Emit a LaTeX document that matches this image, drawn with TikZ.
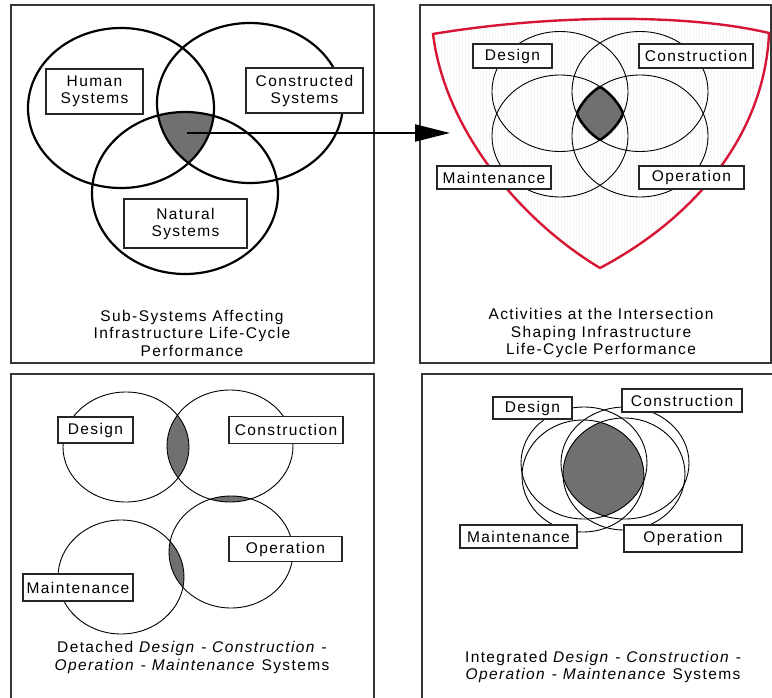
\documentclass[tikz,border=0pt]{standalone}
\usepackage{fontspec}
\setmainfont{Liberation Sans}[LetterSpace=9]
\usetikzlibrary{arrows.meta, patterns}

\definecolor{coregray}{RGB}{112,112,112}
\definecolor{framegray}{RGB}{55,55,55}
\definecolor{shieldred}{RGB}{214,22,52}
\definecolor{hatch}{RGB}{246,246,246}

\tikzset{
  panel/.style={draw=framegray, line width=1.4pt},
  tag/.style={draw=black!85, fill=white, line width=1.2pt, inner sep=0pt, align=center,
    font=\fontsize{15.5}{17}\selectfont},
  caption/.style={align=center, font=\fontsize{15.5}{17.5}\selectfont},
  bigring/.style={line width=2.2pt},
  ring/.style={line width=0.9pt},
  rim/.style={line width=2.6pt},
}

\begin{document}
\begin{tikzpicture}[x=1pt, y=-1pt]
    \useasboundingbox (0,0) rectangle (772,698);
    \fill[white] (0,0) rectangle (772,698);

    \draw[panel] (11,5) rectangle (374,363);
    \draw[panel] (420,5) rectangle (771,363);
    \draw[panel] (11,374) rectangle (374,720);
    \draw[panel] (422,374) rectangle (790,720);

    \begin{scope}
        \clip (121,108) ellipse [x radius=93, y radius=80];
        \clip (250,103) ellipse [x radius=93, y radius=80];
        \fill[coregray] (185,193) ellipse [x radius=93, y radius=81];
    \end{scope}
    \draw[bigring] (121,108) ellipse [x radius=93, y radius=80];
    \draw[bigring] (250,103) ellipse [x radius=93, y radius=80];
    \draw[bigring] (185,193) ellipse [x radius=93, y radius=81];
    \node[tag, minimum width=97pt, minimum height=45pt] (human) at (94.5,91.5) {Human\\Systems};
    \node[tag, minimum width=117pt, minimum height=45pt] (constructed) at (304.5,90.5) {Constructed\\Systems};
    \node[tag, minimum width=123pt, minimum height=49pt] (natural) at (185.5,223.5) {Natural\\Systems};
    \node[caption] (subsystems) at (192,333) {Sub-Systems Affecting\\Infrastructure Life-Cycle\\Performance};

    \draw[draw=shieldred, line width=2.4pt, pattern=vertical lines, pattern color=hatch]
        (433,34) .. controls (540,16) and (680,12) .. (769,33)
        .. controls (765,130) and (700,215) .. (600,268)
        .. controls (520,220) and (445,130) .. cycle;
    \begin{scope}
        \clip (560,91.5) ellipse [x radius=68, y radius=60];
        \clip (640,91.5) ellipse [x radius=68, y radius=60];
        \clip (560,136) ellipse [x radius=68, y radius=61];
        \fill[coregray] (640,136) ellipse [x radius=68, y radius=61];
        \draw[rim] (640,136) ellipse [x radius=68, y radius=61];
    \end{scope}
    \begin{scope}
        \clip (560,91.5) ellipse [x radius=68, y radius=60];
        \clip (640,91.5) ellipse [x radius=68, y radius=60];
        \clip (640,136) ellipse [x radius=68, y radius=61];
        \draw[rim] (560,136) ellipse [x radius=68, y radius=61];
    \end{scope}
    \begin{scope}
        \clip (560,91.5) ellipse [x radius=68, y radius=60];
        \clip (560,136) ellipse [x radius=68, y radius=61];
        \clip (640,136) ellipse [x radius=68, y radius=61];
        \draw[rim] (640,91.5) ellipse [x radius=68, y radius=60];
    \end{scope}
    \begin{scope}
        \clip (640,91.5) ellipse [x radius=68, y radius=60];
        \clip (560,136) ellipse [x radius=68, y radius=61];
        \clip (640,136) ellipse [x radius=68, y radius=61];
        \draw[rim] (560,91.5) ellipse [x radius=68, y radius=60];
    \end{scope}
    \draw[ring] (560,91.5) ellipse [x radius=68, y radius=60];
    \draw[ring] (640,91.5) ellipse [x radius=68, y radius=60];
    \draw[ring] (560,136) ellipse [x radius=68, y radius=61];
    \draw[ring] (640,136) ellipse [x radius=68, y radius=61];
    \node[tag, minimum width=79pt, minimum height=24pt] (design) at (512.5,56) {Design};
    \node[tag, minimum width=114pt, minimum height=24pt] (construction) at (696,56) {Construction};
    \node[tag, minimum width=114pt, minimum height=23pt] (maintenance) at (494,177.5) {Maintenance};
    \node[tag, minimum width=105pt, minimum height=23pt] (operation) at (691.5,177.5) {Operation};
    \node[caption] (activities) at (601,333) {Activities at the Intersection\\Shaping Infrastructure\\Life-Cycle Performance};

    \coordinate (core) at (187,133);
    \coordinate (shield) at (450,133);
    \draw[line width=2pt, -{Triangle[length=35pt, width=17pt]}] (core) -- (shield);

    \begin{scope}
        \clip (126,447) ellipse [x radius=63, y radius=55];
        \fill[coregray] (230,446) ellipse [x radius=63, y radius=56];
    \end{scope}
    \begin{scope}
        \clip (230,446) ellipse [x radius=63, y radius=56];
        \fill[coregray] (231,552) ellipse [x radius=62, y radius=56];
    \end{scope}
    \begin{scope}
        \clip (231,552) ellipse [x radius=62, y radius=56];
        \fill[coregray] (121,577) ellipse [x radius=63, y radius=57];
    \end{scope}
    \draw[ring] (126,447) ellipse [x radius=63, y radius=55];
    \draw[ring] (230,446) ellipse [x radius=63, y radius=56];
    \draw[ring] (231,552) ellipse [x radius=62, y radius=56];
    \draw[ring] (121,577) ellipse [x radius=63, y radius=57];
    \node[tag, minimum width=75pt, minimum height=26pt] (design2) at (95.5,430) {Design};
    \node[tag, minimum width=114pt, minimum height=27pt] (construction2) at (286,430) {Construction};
    \node[tag, minimum width=113pt, minimum height=25pt] (operation2) at (285.5,549) {Operation};
    \node[tag, minimum width=110pt, minimum height=27pt] (maintenance2) at (78,587.5) {Maintenance};
    \node[caption] (detached) at (192,657.5) {Detached \textit{Design} - \textit{Construction} -\\\textit{Operation} - \textit{Maintenance} Systems};

    \begin{scope}
        \clip (584,463) ellipse [x radius=63, y radius=56];
        \clip (625,463) ellipse [x radius=64, y radius=56];
        \clip (583,476) ellipse [x radius=61, y radius=56];
        \fill[coregray] (624,474) ellipse [x radius=61, y radius=56];
    \end{scope}
    \draw[ring] (584,463) ellipse [x radius=63, y radius=56];
    \draw[ring] (625,463) ellipse [x radius=64, y radius=56];
    \draw[ring] (583,476) ellipse [x radius=61, y radius=56];
    \draw[ring] (624,474) ellipse [x radius=61, y radius=56];
    \node[tag, minimum width=79pt, minimum height=22pt] (design3) at (532.5,408) {Design};
    \node[tag, minimum width=120pt, minimum height=23pt] (construction3) at (682,400.5) {Construction};
    \node[tag, minimum width=117pt, minimum height=23pt] (maintenance3) at (518.5,536.5) {Maintenance};
    \node[tag, minimum width=118pt, minimum height=27pt] (operation3) at (683,538.5) {Operation};
    \node[caption] (integrated) at (603,667) {Integrated \textit{Design} - \textit{Construction} -\\\textit{Operation} - \textit{Maintenance} Systems};
\end{tikzpicture}
\end{document}
